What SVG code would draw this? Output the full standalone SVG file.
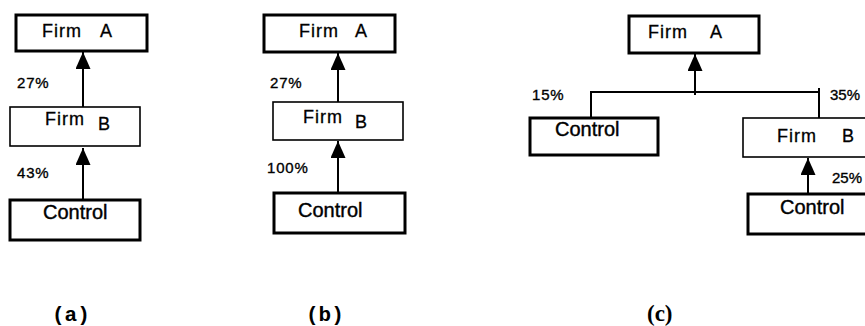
<svg xmlns="http://www.w3.org/2000/svg" width="865" height="326" viewBox="0 0 865 326">
  <style>
    .thick { fill: #fff; stroke: #000; stroke-width: 3; }
    .thin { fill: #fff; stroke: #000; stroke-width: 1.6; }
    .name { font-family: "Liberation Sans", Arial, sans-serif; font-size: 18px; letter-spacing: 1px; fill: #000; stroke: #000; stroke-width: 0.3; }
    .ctrl { font-family: "Liberation Sans", Arial, sans-serif; font-size: 20px; fill: #000; stroke: #000; stroke-width: 0.4; }
    .pct { font-family: "Liberation Sans", Arial, sans-serif; font-size: 15px; letter-spacing: 0.8px; fill: #000; stroke: #000; stroke-width: 0.35; }
    .edge { letter-spacing: 0; }
    .cap { font-family: "Liberation Mono", "Courier New", monospace; font-size: 21px; font-weight: bold; fill: #000; }
    .capc { font-family: "Liberation Serif", "Times New Roman", serif; font-size: 23px; font-weight: bold; fill: #000; }
    .link { fill: none; stroke: #000; stroke-width: 2; }
  </style>
  <defs>
    <marker id="head" markerUnits="userSpaceOnUse" markerWidth="18" markerHeight="15" refX="17" refY="7.5" orient="auto">
      <path d="M0,0 L17,7.5 L0,15 z" fill="#000"/>
    </marker>
  </defs>
  <rect width="865" height="326" fill="#fff"/>

  <!-- panel (a) -->
  <g id="a-firmA">
    <rect class="thick" x="16" y="15" width="131" height="36"/>
    <text class="name" x="42" y="37">Firm</text>
    <text class="name" x="100" y="37">A</text>
  </g>
  <g id="a-firmB">
    <rect class="thin" x="10" y="107" width="130" height="39"/>
    <text class="name" x="45" y="125">Firm</text>
    <text class="name" x="98" y="130">B</text>
  </g>
  <g id="a-control">
    <rect class="thick" x="10" y="200" width="130" height="40"/>
    <text class="ctrl" x="43" y="219">Control</text>
  </g>

  <!-- panel (b) -->
  <g id="b-firmA">
    <rect class="thick" x="264" y="15" width="131" height="37"/>
    <text class="name" x="299" y="37">Firm</text>
    <text class="name" x="355" y="37">A</text>
  </g>
  <g id="b-firmB">
    <rect class="thin" x="273" y="102" width="130" height="38"/>
    <text class="name" x="303" y="123">Firm</text>
    <text class="name" x="355" y="128">B</text>
  </g>
  <g id="b-control">
    <rect class="thick" x="274" y="193" width="131" height="40"/>
    <text class="ctrl" x="298" y="217">Control</text>
  </g>

  <!-- panel (c) -->
  <g id="c-firmA">
    <rect class="thick" x="629" y="16" width="130" height="37"/>
    <text class="name" x="648" y="38">Firm</text>
    <text class="name" x="710" y="38">A</text>
  </g>
  <g id="c-control-left">
    <rect class="thick" x="530" y="118" width="128" height="37"/>
    <text class="ctrl" x="555" y="136">Control</text>
  </g>
  <g id="c-firmB">
    <rect class="thin" x="743" y="118" width="130" height="39"/>
    <text class="name" x="777" y="142">Firm</text>
    <text class="name" x="842" y="142">B</text>
  </g>
  <g id="c-control-right">
    <rect class="thick" x="748" y="194" width="130" height="40"/>
    <text class="ctrl" x="780" y="214">Control</text>
  </g>

  <!-- connectors -->
  <g id="connectors">
    <line class="link" x1="83" y1="107" x2="83" y2="52" marker-end="url(#head)"/>
    <line class="link" x1="83" y1="200" x2="83" y2="148" marker-end="url(#head)"/>
    <line class="link" x1="338" y1="102" x2="338" y2="53" marker-end="url(#head)"/>
    <line class="link" x1="338" y1="193" x2="338" y2="141" marker-end="url(#head)"/>
    <line class="link" x1="695" y1="95" x2="695" y2="54" marker-end="url(#head)"/>
    <polyline class="link" points="591,118 591,92 819,92"/>
    <line class="link" x1="819" y1="88" x2="819" y2="118"/>
    <line class="link" x1="808" y1="194" x2="808" y2="158" marker-end="url(#head)"/>
  </g>

  <!-- ownership shares -->
  <text class="pct" x="17" y="88">27%</text>
  <text class="pct" x="17" y="178">43%</text>
  <text class="pct" x="270" y="88">27%</text>
  <text class="pct" x="267" y="173">100%</text>
  <text class="pct" x="532" y="100">15%</text>
  <text class="pct edge" x="830" y="100">35%</text>
  <text class="pct edge" x="832" y="183">25%</text>

  <!-- panel captions -->
  <text class="cap" x="52" y="321">(a)</text>
  <text class="cap" x="306" y="321">(b)</text>
  <text class="capc" x="647" y="321">(c)</text>
</svg>
